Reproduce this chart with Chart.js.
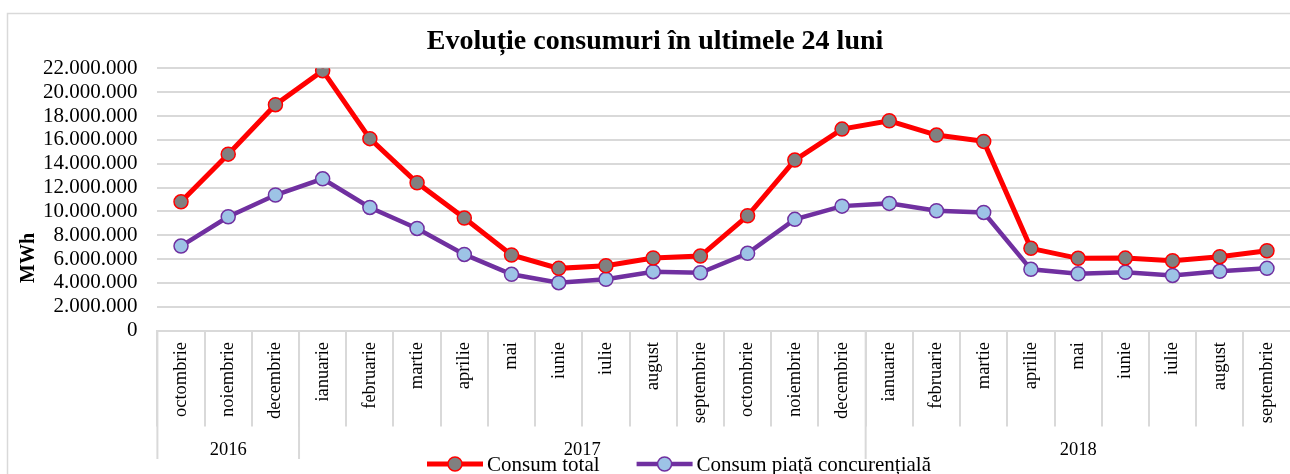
<!DOCTYPE html>
<html>
<head>
<meta charset="utf-8">
<script src="https://cdn.jsdelivr.net/npm/chart.js@4"></script>
<style>
  body { margin: 0; background: #fff; overflow: hidden; }
  #chart { position: absolute; left: 0; top: 0; }
</style>
</head>
<body>
<canvas id="chart" width="1300" height="474"></canvas>
<script>
// categories (lunile) and year groups
const months = ['octombrie', 'noiembrie', 'decembrie', 'ianuarie', 'februarie', 'martie', 'aprilie', 'mai', 'iunie', 'iulie', 'august', 'septembrie',
  'octombrie', 'noiembrie', 'decembrie', 'ianuarie', 'februarie', 'martie', 'aprilie', 'mai', 'iunie', 'iulie', 'august', 'septembrie'];
const years = ['2016', '2017', '2018'];
const yearSpans = [3, 12, 9];

// series values (MWh)
const consumTotal = [10800000, 14800000, 18950000, 21800000, 16100000, 12400000, 9440000, 6340000, 5220000, 5440000, 6090000, 6250000,
  9630000, 14300000, 16900000, 17600000, 16400000, 15870000, 6900000, 6060000, 6080000, 5860000, 6200000, 6700000];
const consumPiata = [7090000, 9550000, 11370000, 12730000, 10330000, 8570000, 6390000, 4720000, 4020000, 4300000, 4940000, 4850000,
  6480000, 9330000, 10440000, 10670000, 10050000, 9910000, 5140000, 4770000, 4890000, 4630000, 4970000, 5220000];

// y axis ticks
const yMax = 22000000;
const yStep = 2000000;

const serif = '"Liberation Serif", "Times New Roman", serif';

// format 12000000 -> 12.000.000
function fmt(v) {
  return String(v).replace(/\B(?=(\d{3})+(?!\d))/g, '.');
}

// frame, year row, axis title and legend
const extras = {
  id: 'extras',
  beforeDraw(chart) {
    const ctx = chart.ctx;
    ctx.save();
    ctx.strokeStyle = '#d9d9d9';
    ctx.lineWidth = 1.5;
    ctx.strokeRect(7.5, 13.5, 1400, 600);
    ctx.restore();
  },
  afterDraw(chart) {
    const ctx = chart.ctx;
    const xs = chart.scales.x;
    const step = xs.width / months.length;
    ctx.save();

    // year separators and labels
    ctx.strokeStyle = '#d9d9d9';
    ctx.lineWidth = 2;
    ctx.fillStyle = '#000';
    ctx.font = '18.5px ' + serif;
    ctx.textAlign = 'center';
    ctx.textBaseline = 'alphabetic';
    let idx = 0;
    years.forEach((yr, i) => {
      const x0 = xs.left + idx * step;
      ctx.beginPath();
      ctx.moveTo(x0, xs.top);
      ctx.lineTo(x0, 459);
      ctx.stroke();
      ctx.fillText(yr, x0 + yearSpans[i] * step / 2, 455);
      idx += yearSpans[i];
    });

    // y axis title
    ctx.save();
    ctx.translate(29, 258);
    ctx.rotate(-Math.PI / 2);
    ctx.font = 'bold 20px ' + serif;
    ctx.textBaseline = 'middle';
    ctx.fillText('MWh', 0, 0);
    ctx.restore();

    // legend: line with marker, then label
    ctx.font = '21px ' + serif;
    ctx.textAlign = 'left';
    let lx = 427;
    const ly = 464;
    chart.data.datasets.forEach(ds => {
      ctx.strokeStyle = ds.borderColor;
      ctx.lineWidth = ds.borderWidth;
      ctx.beginPath();
      ctx.moveTo(lx, ly);
      ctx.lineTo(lx + 56, ly);
      ctx.stroke();
      ctx.beginPath();
      ctx.arc(lx + 28, ly, ds.pointRadius, 0, Math.PI * 2);
      ctx.fillStyle = ds.pointBackgroundColor;
      ctx.fill();
      ctx.lineWidth = ds.pointBorderWidth;
      ctx.strokeStyle = ds.pointBorderColor;
      ctx.stroke();
      ctx.fillStyle = '#000';
      ctx.fillText(ds.label, lx + 60, 471);
      lx += 60 + ctx.measureText(ds.label).width + 37;
    });
    ctx.restore();
  }
};

const ctx = document.getElementById('chart').getContext('2d');
new Chart(ctx, {
  type: 'line',
  data: {
    labels: months,
    datasets: [{
      label: 'Consum total',
      data: consumTotal,
      borderColor: '#ff0000',
      borderWidth: 5,
      pointRadius: 7,
      pointBackgroundColor: '#808080',
      pointBorderColor: '#ff0000',
      pointBorderWidth: 1.5,
      tension: 0
    }, {
      label: 'Consum piață concurențială',
      data: consumPiata,
      borderColor: '#7030a0',
      borderWidth: 4.5,
      pointRadius: 7,
      pointBackgroundColor: '#9dc3e6',
      pointBorderColor: '#7030a0',
      pointBorderWidth: 1.5,
      tension: 0
    }]
  },
  options: {
    responsive: false,
    animation: false,
    devicePixelRatio: 1,
    layout: { padding: { left: 19.4, right: 9.4, top: 0, bottom: 0 } },
    plugins: {
      legend: { display: false },
      tooltip: { enabled: false },
      title: {
        display: true,
        text: 'Evoluție consumuri în ultimele 24 luni',
        color: '#000',
        font: { family: serif, size: 28, weight: 'bold' },
        padding: { top: 25.2, bottom: 9.5 }
      }
    },
    scales: {
      x: {
        offset: true,
        grid: { display: true, offset: true, drawOnChartArea: false, drawTicks: true, tickLength: 96, color: '#d9d9d9', lineWidth: 2 },
        border: { display: true, color: '#d9d9d9', width: 2 },
        ticks: {
          autoSkip: false,
          minRotation: 90,
          maxRotation: 90,
          padding: -84.6,
          color: '#000',
          font: { family: serif, size: 18.5 }
        },
        afterFit(scale) { scale.height = 143.4; }
      },
      y: {
        min: 0,
        max: yMax,
        grid: { color: '#d9d9d9', lineWidth: 2, drawTicks: false },
        border: { display: false },
        ticks: {
          stepSize: yStep,
          autoSkip: false,
          padding: 20,
          color: '#000',
          font: { family: serif, size: 21 },
          callback: v => fmt(v)
        },
        afterFit(scale) { scale.width = 138; }
      }
    }
  },
  plugins: [extras]
});
</script>
</body>
</html>
